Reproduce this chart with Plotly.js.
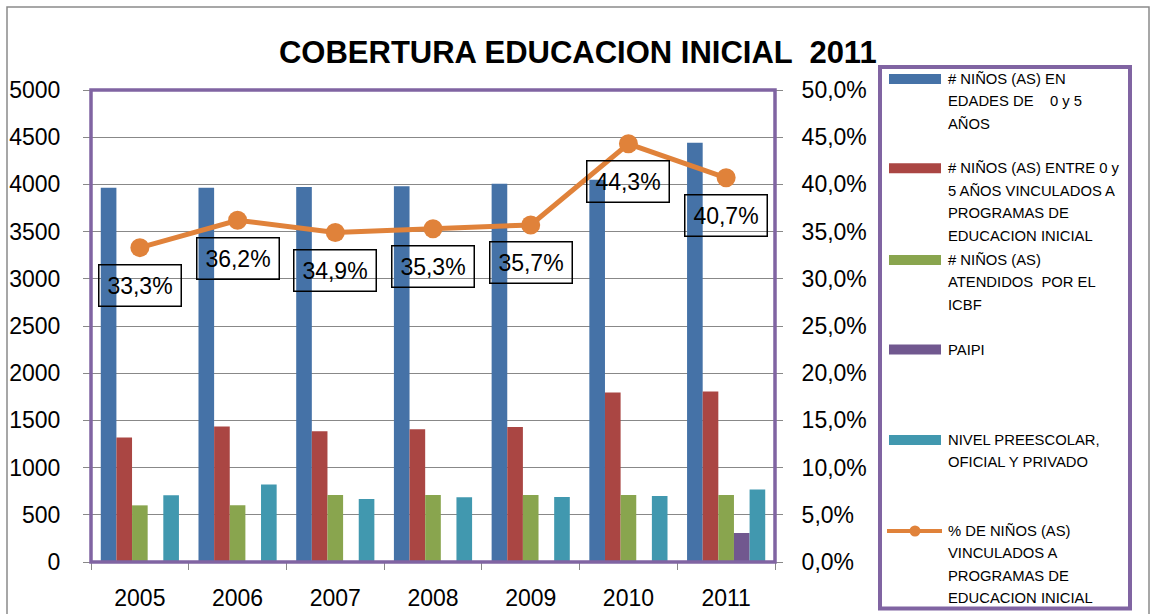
<!DOCTYPE html>
<html>
<head>
<meta charset="utf-8">
<script src="https://cdn.plot.ly/plotly-3.0.1.min.js"></script>
<style>html,body{margin:0;padding:0;background:#fff;}#chart{width:1151px;height:614px;}</style>
</head>
<body>
<div id="chart"></div>
<script>
// ---- data ----
const years = ['2005', '2006', '2007', '2008', '2009', '2010', '2011'];
const ninos0a5 = [3965, 3965, 3972, 3980, 4007, 4050, 4441];
const vinculados = [1320, 1435, 1386, 1405, 1430, 1796, 1806];
const atendidosICBF = [600, 600, 710, 710, 710, 710, 710];
const paipi = [0, 0, 0, 0, 0, 0, 307];
const preescolar = [706, 822, 667, 685, 688, 698, 769];
const pctVinculados = [0.333, 0.362, 0.349, 0.353, 0.357, 0.443, 0.407];

const seriesNames = [
  '# NIÑOS (AS) EN EDADES DE    0 y 5 AÑOS',
  '# NIÑOS (AS) ENTRE 0 y 5 AÑOS VINCULADOS A PROGRAMAS DE EDUCACION INICIAL',
  '# NIÑOS (AS) ATENDIDOS  POR EL ICBF',
  'PAIPI',
  'NIVEL PREESCOLAR, OFICIAL Y PRIVADO',
  '% DE NIÑOS (AS) VINCULADOS A PROGRAMAS DE EDUCACION INICIAL'
];
const legendLines = [
  ['# NIÑOS (AS) EN', 'EDADES DE \u00a0\u00a0 0 y 5', 'AÑOS'],
  ['# NIÑOS (AS) ENTRE 0 y', '5 AÑOS VINCULADOS A', 'PROGRAMAS DE', 'EDUCACION INICIAL'],
  ['# NIÑOS (AS)', 'ATENDIDOS \u00a0POR EL', 'ICBF'],
  ['PAIPI'],
  ['NIVEL PREESCOLAR,', 'OFICIAL Y PRIVADO'],
  ['% DE NIÑOS (AS)', 'VINCULADOS A', 'PROGRAMAS DE', 'EDUCACION INICIAL']
];
const titleText = 'COBERTURA EDUCACION INICIAL  2011';

// ---- styles ----
const colors = ['#4572A7', '#AA4643', '#89A54E', '#71588F', '#4198AF', '#E0823A'];
const FONT = 'Liberation Sans, Arial, sans-serif';
const L = 91, R = 376, T = 90, B = 52, PW = 684, PH = 472;
const px = v => (v - L) / PW;
const py = v => (614 - B - v) / PH;

const barSeries = [ninos0a5, vinculados, atendidosICBF, paipi, preescolar];
const traces = barSeries.map((vals, i) => ({
  type: 'bar', x: years, y: vals, name: seriesNames[i],
  marker: {color: colors[i]}, yaxis: 'y', hoverinfo: 'x+y+name'
}));
traces.push({
  type: 'scatter', mode: 'lines+markers', x: years, y: pctVinculados,
  name: seriesNames[5], yaxis: 'y2',
  line: {color: colors[5], width: 5}, marker: {color: colors[5], size: 19}
});

const annotations = years.map((yr, i) => ({
  xref: 'x', yref: 'y2', x: i, y: pctVinculados[i], yshift: -38,
  text: (pctVinculados[i] * 100).toFixed(1).replace('.', ',') + '%',
  showarrow: false, font: {family: FONT, size: 23, color: '#000'},
  bordercolor: '#000', borderwidth: 1.5, borderpad: 1, bgcolor: 'rgba(0,0,0,0)',
  width: 79, height: 38
}));

const shapes = [];
// outer chart border
shapes.push({type: 'rect', xref: 'paper', yref: 'paper', x0: px(7), x1: px(1149), y0: py(640), y1: py(7),
  line: {color: '#8a8a8a', width: 1.5}, layer: 'below'});
// plot area border
shapes.push({type: 'rect', xref: 'paper', yref: 'paper', x0: 0, x1: 1, y0: 0, y1: 1,
  line: {color: '#8064A2', width: 3.5}, layer: 'above'});
// legend box
shapes.push({type: 'rect', xref: 'paper', yref: 'paper', x0: px(880), x1: px(1130), y0: py(608.5), y1: py(67),
  line: {color: '#8064A2', width: 4}, fillcolor: '#fff', layer: 'below'});

const itemY = [79, 168.3, 260, 349.5, 440, 531];
const lineGap = 22.4;
legendLines.forEach((lines, i) => {
  const yc = itemY[i];
  if (i < 5) {
    shapes.push({type: 'rect', xref: 'paper', yref: 'paper', x0: px(889), x1: px(941), y0: py(yc + 5), y1: py(yc - 5),
      line: {width: 0}, fillcolor: colors[i], layer: 'above'});
  } else {
    shapes.push({type: 'line', xref: 'paper', yref: 'paper', x0: px(887), x1: px(942), y0: py(yc), y1: py(yc),
      line: {color: colors[i], width: 4}, layer: 'above'});
    shapes.push({type: 'circle', xref: 'paper', yref: 'paper', x0: px(909.5), x1: px(920.5), y0: py(yc + 5.5), y1: py(yc - 5.5),
      line: {width: 0}, fillcolor: colors[i], layer: 'above'});
  }
  lines.forEach((t, k) => {
    annotations.push({xref: 'paper', yref: 'paper', x: px(946), y: py(yc + k * lineGap),
      xanchor: 'left', yanchor: 'middle', showarrow: false, text: t,
      font: {family: FONT, size: 14.8, color: '#000'}});
  });
});

const layout = {
  width: 1151, height: 614,
  margin: {l: L, r: R, t: T, b: B, pad: 0},
  paper_bgcolor: '#fff', plot_bgcolor: '#fff',
  separators: ',.',
  showlegend: false,
  barmode: 'group', bargap: 0.2, bargroupgap: 0,
  font: {family: FONT, color: '#000'},
  title: {text: '<b>' + titleText + '</b>', x: 0.502, xref: 'container', xanchor: 'center',
    y: 1 - 52 / 614, yref: 'container', yanchor: 'middle',
    font: {family: FONT, size: 31, color: '#000'}},
  xaxis: {type: 'category', range: [-0.5, years.length - 0.5], autorange: false,
    tickson: 'boundaries', ticks: 'outside', ticklen: 7, tickcolor: '#888',
    showline: true, linecolor: '#888', linewidth: 1, showgrid: false,
    tickfont: {family: FONT, size: 23, color: '#000'}, ticklabelstandoff: 15},
  yaxis: {range: [0, 5000], dtick: 500, tickformat: 'd', ticks: 'outside', ticklen: 7, tickcolor: '#888',
    showline: true, linecolor: '#888', showgrid: true, gridcolor: '#888', gridwidth: 1, zeroline: false,
    tickfont: {family: FONT, size: 23, color: '#000'}, ticklabelstandoff: 18},
  yaxis2: {range: [0, 0.5], dtick: 0.05, tickformat: '.1%', overlaying: 'y', side: 'right',
    ticks: 'outside', ticklen: 7, tickcolor: '#888', showline: true, linecolor: '#888',
    showgrid: false, zeroline: false,
    tickfont: {family: FONT, size: 23, color: '#000'}, ticklabelstandoff: 14},
  annotations: annotations,
  shapes: shapes
};

Plotly.newPlot('chart', traces, layout, {displayModeBar: false, staticPlot: true});
</script>
</body>
</html>
